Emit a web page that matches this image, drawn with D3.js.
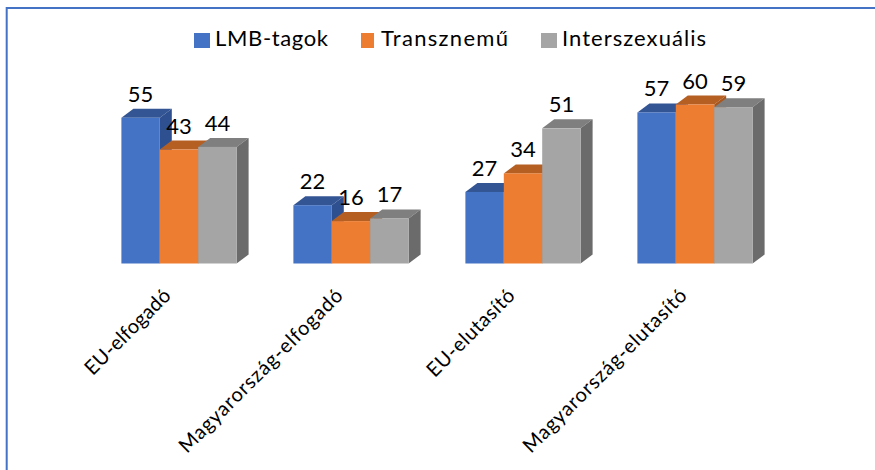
<!DOCTYPE html>
<html><head><meta charset="utf-8">
<script src="https://cdn.jsdelivr.net/npm/d3@7"></script>
<style>html,body{margin:0;padding:0;background:#fff}svg{display:block}text{font-family:Lato,"Open Sans",sans-serif;fill:#000}</style>
</head><body><svg id="c" width="875" height="470"></svg>
<script>
const categories=["EU-elfogadó","Magyarország-elfogadó","EU-elutasító","Magyarország-elutasító"];
const seriesNames=["LMB-tagok","Transznemű","Interszexuális"];
const lmb=[55,22,27,57];
const trans=[43,16,34,60];
const inter=[44,17,51,59];
const seriesValues=[lmb,trans,inter];
const front=["#4472C4","#ED7D31","#A5A5A5"];
const topC=["#335593","#B55F22","#7F7F7F"];
const sideC=["#2F5090","#A8561E","#6B6B6B"];
const labelLen=[112,222,115,222];

const svg=d3.select("#c");
const x0=d3.scaleBand().domain(categories).range([93,781]);
const barW=38.4;
const x1=d3.scaleBand().domain(seriesNames).range([0,barW*3]);
const y=d3.scaleLinear().domain([0,60]).range([263.5,104.5]);
const dx=12,dy=9;
const gx=c=>x0(c)+(x0.bandwidth()-barW*3)/2;

svg.append("path").attr("d","M6.7,470V8H875").attr("fill","none").attr("stroke","#4472C4").attr("stroke-width",2);

const legX=[194,361,541],legW=[16,13,16],txtX=[215,381,562],legLen=[113,127,144];
seriesNames.forEach((n,i)=>{
  svg.append("rect").attr("x",legX[i]).attr("y",33).attr("width",legW[i]).attr("height",15).attr("fill",front[i]);
  svg.append("text").attr("x",txtX[i]).attr("y",46).attr("font-size",22).attr("textLength",legLen[i]).text(n);
});

categories.forEach((c,ci)=>{
  const g=svg.append("g");
  [0,1,2].forEach(si=>{
    const v=seriesValues[si][ci];
    const x=gx(c)+x1(seriesNames[si]), yy=y(v), w=x1.bandwidth(), b=y(0);
    g.append("path").attr("d",`M${x},${yy}l${dx},${-dy}h${w}l${-dx},${dy}z`).attr("fill",topC[si]);
    g.append("path").attr("d",`M${x+w},${yy}l${dx},${-dy}V${b-dy}l${-dx},${dy}z`).attr("fill",sideC[si]);
    g.append("rect").attr("x",x).attr("y",yy).attr("width",w).attr("height",b-yy).attr("fill",front[si]);
  });
  [0,1,2].forEach(si=>{
    const v=seriesValues[si][ci];
    svg.append("text").attr("x",gx(c)+x1(seriesNames[si])+x1.bandwidth()/2).attr("y",y(v)-16)
      .attr("text-anchor","middle").attr("font-size",22).text(v);
  });
  svg.append("text").attr("transform",`translate(${gx(c)+x1.bandwidth()*1.5-12},292) rotate(-45)`)
    .attr("text-anchor","end").attr("dy","0.35em").attr("font-size",20)
    .attr("textLength",labelLen[ci]).text(c);
});
</script></body></html>
